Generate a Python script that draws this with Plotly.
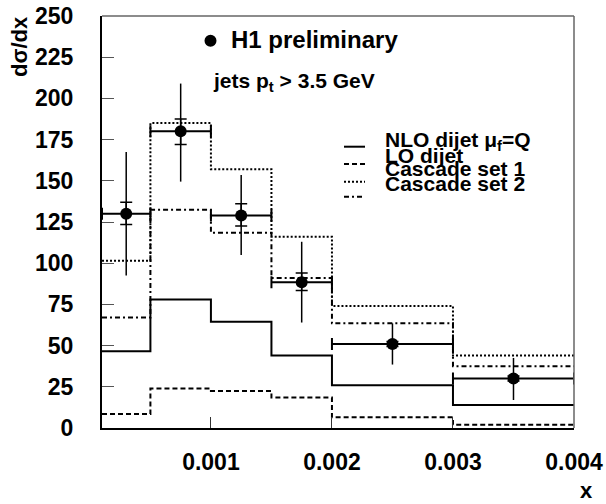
import plotly.graph_objects as go

# ---- data ----
bin_edges = [0.0001, 0.0005, 0.001, 0.0015, 0.002, 0.003, 0.004]

data_y = [130, 180, 129, 88.5, 51, 30]
stat_up = [7, 7.5, 7, 5.5, 1.5, 1.5]
stat_dn = [6.5, 8, 6.5, 5, 1.5, 1.5]
tot_up = [37.5, 29, 24.5, 24.5, 12.5, 12.5]
tot_dn = [37.5, 30.5, 24, 24.5, 12.5, 13]

nlo_dijet = [46.5, 78, 64.5, 44, 26, 14]
lo_dijet = [8.5, 24, 22.5, 18.5, 6.5, 2]
cascade_set1 = [101.5, 185, 157, 116, 74, 44]
cascade_set2 = [67, 132.5, 118.5, 91, 63.5, 37.5]

series_labels = ["NLO dijet \u03bc<sub>f</sub>=Q", "LO dijet", "Cascade set 1", "Cascade set 2"]
series_values = [nlo_dijet, lo_dijet, cascade_set1, cascade_set2]
series_dash = ["solid", "5px,3px", "2px,2px", "5px,3px,2px,3px"]

y_ticks = [0, 25, 50, 75, 100, 125, 150, 175, 200, 225, 250]
x_ticks = [0.001, 0.002, 0.003, 0.004]
x_tick_text = ["0.001", "0.002", "0.003", "0.004"]

FONT = "Liberation Sans, Arial, Helvetica, sans-serif"

centers = [(a + b) / 2 for a, b in zip(bin_edges[:-1], bin_edges[1:])]
half_w = [(b - a) / 2 for a, b in zip(bin_edges[:-1], bin_edges[1:])]

fig = go.Figure()

for lab, vals, dash in zip(series_labels, series_values, series_dash):
    fig.add_trace(go.Scatter(
        x=bin_edges, y=vals + [vals[-1]], mode="lines", line_shape="hv",
        line=dict(color="black", width=2, dash=dash), name=lab,
        showlegend=False, hoverinfo="skip"))

# statistical errors (with caps)
fig.add_trace(go.Scatter(
    x=centers, y=data_y, mode="markers",
    marker=dict(size=1, color="rgba(0,0,0,0)"),
    error_y=dict(type="data", symmetric=False, array=stat_up, arrayminus=stat_dn,
                 width=6, thickness=1.5, color="black"),
    showlegend=False, hoverinfo="skip"))

# data points with total errors and bin widths
fig.add_trace(go.Scatter(
    x=centers, y=data_y, mode="markers",
    marker=dict(size=12, color="black"),
    error_x=dict(type="data", array=half_w, width=6, thickness=2, color="black"),
    error_y=dict(type="data", symmetric=False, array=tot_up, arrayminus=tot_dn,
                 width=0, thickness=1.5, color="black"),
    name="H1 preliminary", showlegend=False))

L, R, T, B = 102, 32, 16, 76
W, H = 606, 504
pw, ph = W - L - R, H - T - B


def px2paper(px, py):
    return (px - L) / pw, (H - B - py) / ph


shapes = []
annotations = []

# frame top / right (grey)
shapes.append(dict(type="line", xref="paper", yref="paper", x0=0, x1=1, y0=1, y1=1,
                   line=dict(color="#666666", width=1.5)))
shapes.append(dict(type="line", xref="paper", yref="paper", x0=1, x1=1, y0=0, y1=1,
                   line=dict(color="#666666", width=1.5)))

# H1 preliminary marker + text
mx, my = px2paper(210.5, 40.7)
shapes.append(dict(type="circle", xref="paper", yref="paper", xsizemode="pixel",
                   ysizemode="pixel", xanchor=mx, yanchor=my, x0=-6, x1=6, y0=-6, y1=6,
                   fillcolor="black", line=dict(color="black", width=0)))
tx, ty = px2paper(229, 40)
annotations.append(dict(text="H1 preliminary", xref="paper", yref="paper", x=tx, y=ty,
                        xanchor="left", yanchor="middle", showarrow=False,
                        font=dict(family=FONT, size=24, color="black", weight="bold")))
tx, ty = px2paper(211, 82)
annotations.append(dict(text="jets p<sub>t</sub> > 3.5 GeV", xref="paper", yref="paper",
                        x=tx, y=ty, xanchor="left", yanchor="middle", showarrow=False,
                        font=dict(family=FONT, size=21, color="black", weight="bold")))

# manual legend
line_py = [146.7, 164, 181.7, 196.7]
text_py = [140.5, 155.5, 169, 183]
for lab, dash, lpy, tpy in zip(series_labels, series_dash, line_py, text_py):
    x0, y0 = px2paper(344, lpy)
    x1, _ = px2paper(365, lpy)
    shapes.append(dict(type="line", xref="paper", yref="paper", x0=x0, x1=x1, y0=y0, y1=y0,
                       line=dict(color="black", width=2, dash=dash)))
    tx, ty = px2paper(383, tpy)
    annotations.append(dict(text=lab, xref="paper", yref="paper", x=tx, y=ty,
                            xanchor="left", yanchor="middle", showarrow=False,
                            font=dict(family=FONT, size=21, color="black", weight="bold")))

# axis titles
tx, ty = px2paper(20, 47)
annotations.append(dict(text="d\u03c3/dx", xref="paper", yref="paper", x=tx, y=ty,
                        xanchor="center", yanchor="middle", textangle=-90, showarrow=False,
                        font=dict(family=FONT, size=22, color="black", weight="bold")))
tx, ty = px2paper(586, 490)
annotations.append(dict(text="x", xref="paper", yref="paper", x=tx, y=ty,
                        xanchor="center", yanchor="middle", showarrow=False,
                        font=dict(family=FONT, size=22, color="black", weight="bold")))

fig.update_layout(
    width=W, height=H,
    margin=dict(l=L, r=R, t=T, b=B, pad=0, autoexpand=False),
    paper_bgcolor="white", plot_bgcolor="white",
    showlegend=False,
    shapes=shapes, annotations=annotations,
    xaxis=dict(range=[bin_edges[0], bin_edges[-1]], tickvals=x_ticks, ticktext=x_tick_text,
               automargin=False,
               showgrid=False, zeroline=False, showline=True, linecolor="black", linewidth=2,
               ticks="inside", ticklen=11, tickwidth=1, tickcolor="#333333",
               ticklabelstandoff=12,
               tickfont=dict(family=FONT, size=23, color="black", weight="bold")),
    yaxis=dict(range=[0, 250], tickvals=y_ticks, automargin=False,
               showgrid=False, zeroline=False, showline=True, linecolor="black", linewidth=2,
               ticks="inside", ticklen=12, tickwidth=1, tickcolor="#555555",
               ticklabelstandoff=22,
               tickfont=dict(family=FONT, size=23, color="black", weight="bold")),
)

fig.write_html("out.html", config={"displayModeBar": False},
               post_script="document.body.style.margin='0px';document.body.style.padding='0px';")
